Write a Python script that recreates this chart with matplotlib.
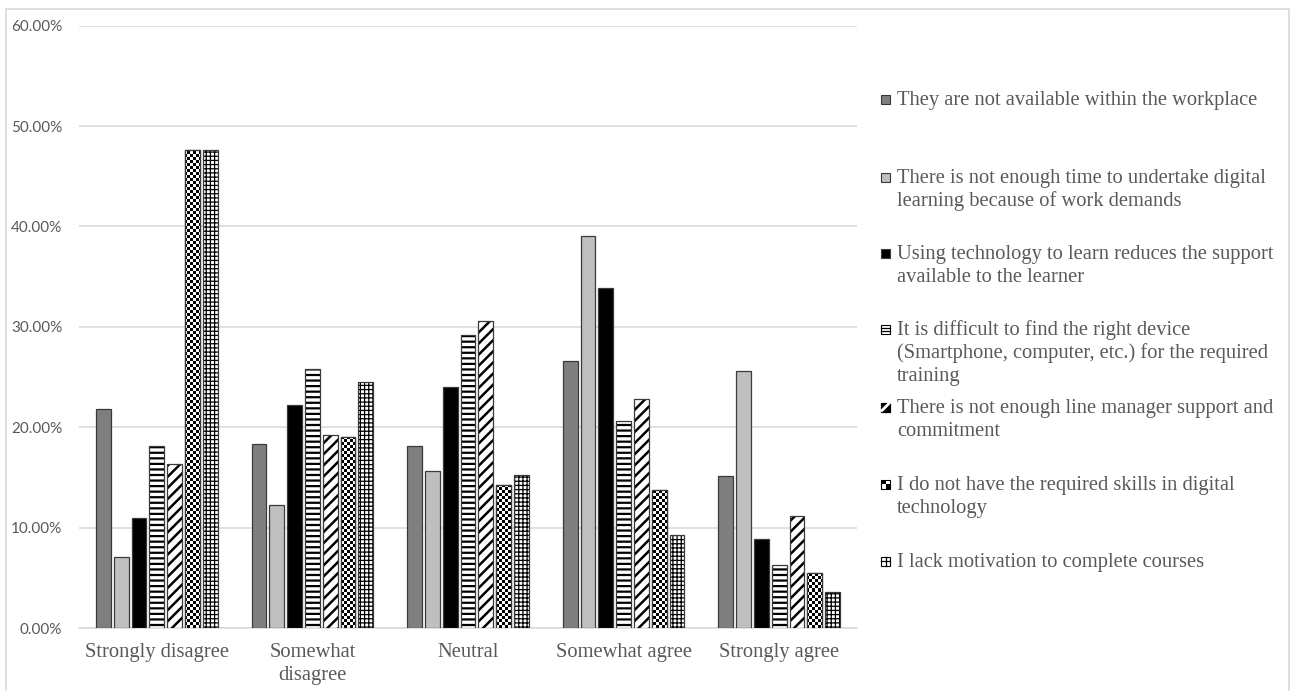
import numpy as np
import matplotlib
matplotlib.use("Agg")
import matplotlib.pyplot as plt
from matplotlib.patches import Rectangle
from matplotlib.lines import Line2D
from matplotlib.ticker import PercentFormatter

# ---- data -------------------------------------------------------------
categories = ["Strongly disagree", "Somewhat\ndisagree", "Neutral",
              "Somewhat agree", "Strongly agree"]

series_labels = [
    "They are not available within the workplace",
    "There is not enough time to undertake digital\nlearning because of work demands",
    "Using technology to learn reduces the support\navailable to the learner",
    "It is difficult to find the right device\n(Smartphone, computer, etc.) for the required\ntraining",
    "There is not enough line manager support and\ncommitment",
    "I do not have the required skills in digital\ntechnology",
    "I lack motivation to complete courses",
]

not_available = [21.8, 18.3, 18.1, 26.6, 15.1]
no_time       = [7.1, 12.3, 15.6, 39.1, 25.6]
less_support  = [11.0, 22.2, 24.0, 33.9, 8.9]
no_device     = [18.1, 25.8, 29.2, 20.6, 6.3]
no_manager    = [16.3, 19.2, 30.6, 22.8, 11.2]
no_skills     = [47.6, 19.0, 14.2, 13.7, 5.5]
no_motivation = [47.6, 24.5, 15.2, 9.3, 3.6]

series_values = [not_available, no_time, less_support, no_device,
                 no_manager, no_skills, no_motivation]

# ---- styling ----------------------------------------------------------
W, H = 1292, 691
TEXT_GREY = "#595959"
GRID_GREY = "#d9d9d9"
EDGE = "#3a3a3a"
SERIF = "Liberation Serif"

styles = [
    dict(face="#7f7f7f", hatch=None),
    dict(face="#bfbfbf", hatch=None),
    dict(face="#000000", hatch=None),
    dict(face="white", hatch="---"),
    dict(face="white", hatch="///"),
    dict(face="white", hatch="checker"),
    dict(face="white", hatch="++++"),
]
hatch_lw = {"---": 1.6, "///": 1.8, "++++": 0.9}

fig = plt.figure(figsize=(W / 100, H / 100), dpi=100)
fig.patch.set_facecolor("white")

# chart-area frame
fig.add_artist(Rectangle((6 / W, -0.05), (1289 - 6) / W, 1.05 - 9 / H,
                         transform=fig.transFigure, fill=False,
                         edgecolor=GRID_GREY, linewidth=1.2))

ax = fig.add_axes([79 / W, (H - 628) / H, (857 - 79) / W, (628 - 25.7) / H])
ax.set_xlim(-0.5, len(categories) - 0.5)
ax.set_ylim(0, 60)

# checkerboard texture (3-px squares) spanning the plot area
ax_w_px, ax_h_px = 857 - 79, 628 - 25.7
nx, ny = int(round(ax_w_px / 3)), int(round(ax_h_px / 3))
checker = (np.add.outer(np.arange(ny), np.arange(nx)) % 2).astype(float)

x = np.arange(len(categories))
n = len(series_values)
step = 0.1144
width = 0.096

for i, (vals, st) in enumerate(zip(series_values, styles)):
    xpos = x + (i - (n - 1) / 2) * step
    h = st["hatch"]
    if h is None:
        ax.bar(xpos, vals, width, color=st["face"], edgecolor=EDGE,
               linewidth=0.9, zorder=3)
    elif h == "checker":
        bars = ax.bar(xpos, vals, width, color="white", edgecolor=EDGE,
                      linewidth=0.9, zorder=3)
        for b in bars:
            im = ax.imshow(checker, cmap="gray", vmin=0, vmax=1,
                           extent=(-0.5, len(categories) - 0.5, 0, 60),
                           origin="lower", interpolation="nearest",
                           aspect="auto", zorder=3.5)
            im.set_clip_path(b)
        ax.bar(xpos, vals, width, fill=False, edgecolor=EDGE,
               linewidth=0.9, zorder=4)
    else:
        with plt.rc_context({"hatch.linewidth": hatch_lw[h],
                             "hatch.color": "black"}):
            bars = ax.bar(xpos, vals, width, color="white",
                          edgecolor="black", linewidth=0, hatch=h, zorder=3)
            if hasattr(bars[0], "set_hatch_linewidth"):
                for b in bars:
                    b.set_hatch_linewidth(hatch_lw[h])
        ax.bar(xpos, vals, width, fill=False, edgecolor=EDGE,
               linewidth=0.9, zorder=4)

ax.set_ylim(0, 60)
ax.set_xlim(-0.5, len(categories) - 0.5)
ax.yaxis.set_major_locator(plt.MultipleLocator(10))
ax.yaxis.set_major_formatter(PercentFormatter(decimals=2))
ax.grid(axis="y", color=GRID_GREY, linewidth=1.1, zorder=0)
ax.set_axisbelow(True)
for s in ["top", "right", "left"]:
    ax.spines[s].set_visible(False)
ax.spines["bottom"].set_color(GRID_GREY)
ax.spines["bottom"].set_linewidth(1.1)
ax.spines["bottom"].set_zorder(2)

ax.set_xticks(x)
ax.set_xticklabels(categories, fontfamily=SERIF, fontsize=14.8,
                   color=TEXT_GREY, linespacing=1.3)
ax.tick_params(axis="x", length=0, pad=11)
ax.tick_params(axis="y", length=0, pad=12, labelcolor=TEXT_GREY,
               labelsize=11)
for lab in ax.get_yticklabels():
    lab.set_fontfamily("Lato")


# ---- legend, drawn as figure artists ----------------------------------
def fx(px):
    return px / W


def fy(py):
    return (H - py) / H


def fig_line(x0, y0, x1, y1, lw=1.0, color="black"):
    fig.add_artist(Line2D([fx(x0), fx(x1)], [fy(y0), fy(y1)],
                          transform=fig.transFigure, color=color,
                          linewidth=lw, zorder=6))


first_line_y = [99, 177, 253, 329, 407, 484, 561]
sq = 9
for i, (lab, st, yc) in enumerate(zip(series_labels, styles, first_line_y)):
    x0, top = 881, yc - sq / 2
    bottom = top + sq
    h = st["hatch"]
    face = st["face"] if h is None else "white"
    fig.add_artist(Rectangle((fx(x0), fy(bottom)), sq / W, sq / H,
                             facecolor=face, edgecolor="black" if h else EDGE,
                             linewidth=0.8, transform=fig.transFigure,
                             zorder=5))
    if h == "---":
        for yy in (top + sq / 3, top + 2 * sq / 3):
            fig_line(x0, yy, x0 + sq, yy, lw=0.9)
    elif h == "++++":
        fig_line(x0, top + sq / 2, x0 + sq, top + sq / 2, lw=0.9)
        fig_line(x0 + sq / 2, top, x0 + sq / 2, bottom, lw=0.9)
    elif h == "///":
        fig.add_artist(Rectangle((fx(x0), fy(bottom)), sq / W, sq / H,
                                 facecolor="black", edgecolor="black",
                                 linewidth=0.8, transform=fig.transFigure,
                                 zorder=5))
        fig_line(x0 + 1, bottom - 1, x0 + sq - 1, top + 1, lw=2.0,
                 color="white")
    elif h == "checker":
        half = sq / 2
        for (dx, dy) in [(0, 0), (half, half)]:
            fig.add_artist(Rectangle((fx(x0 + dx), fy(top + dy + half)),
                                     half / W, half / H, facecolor="black",
                                     edgecolor="none",
                                     transform=fig.transFigure, zorder=6))
    for k, line in enumerate(lab.split("\n")):
        fig.text(fx(897), fy(yc + 6 + 23 * k), line, fontfamily=SERIF,
                 fontsize=14.8, color=TEXT_GREY, va="baseline", ha="left")

fig.savefig("out.png", dpi=100)
